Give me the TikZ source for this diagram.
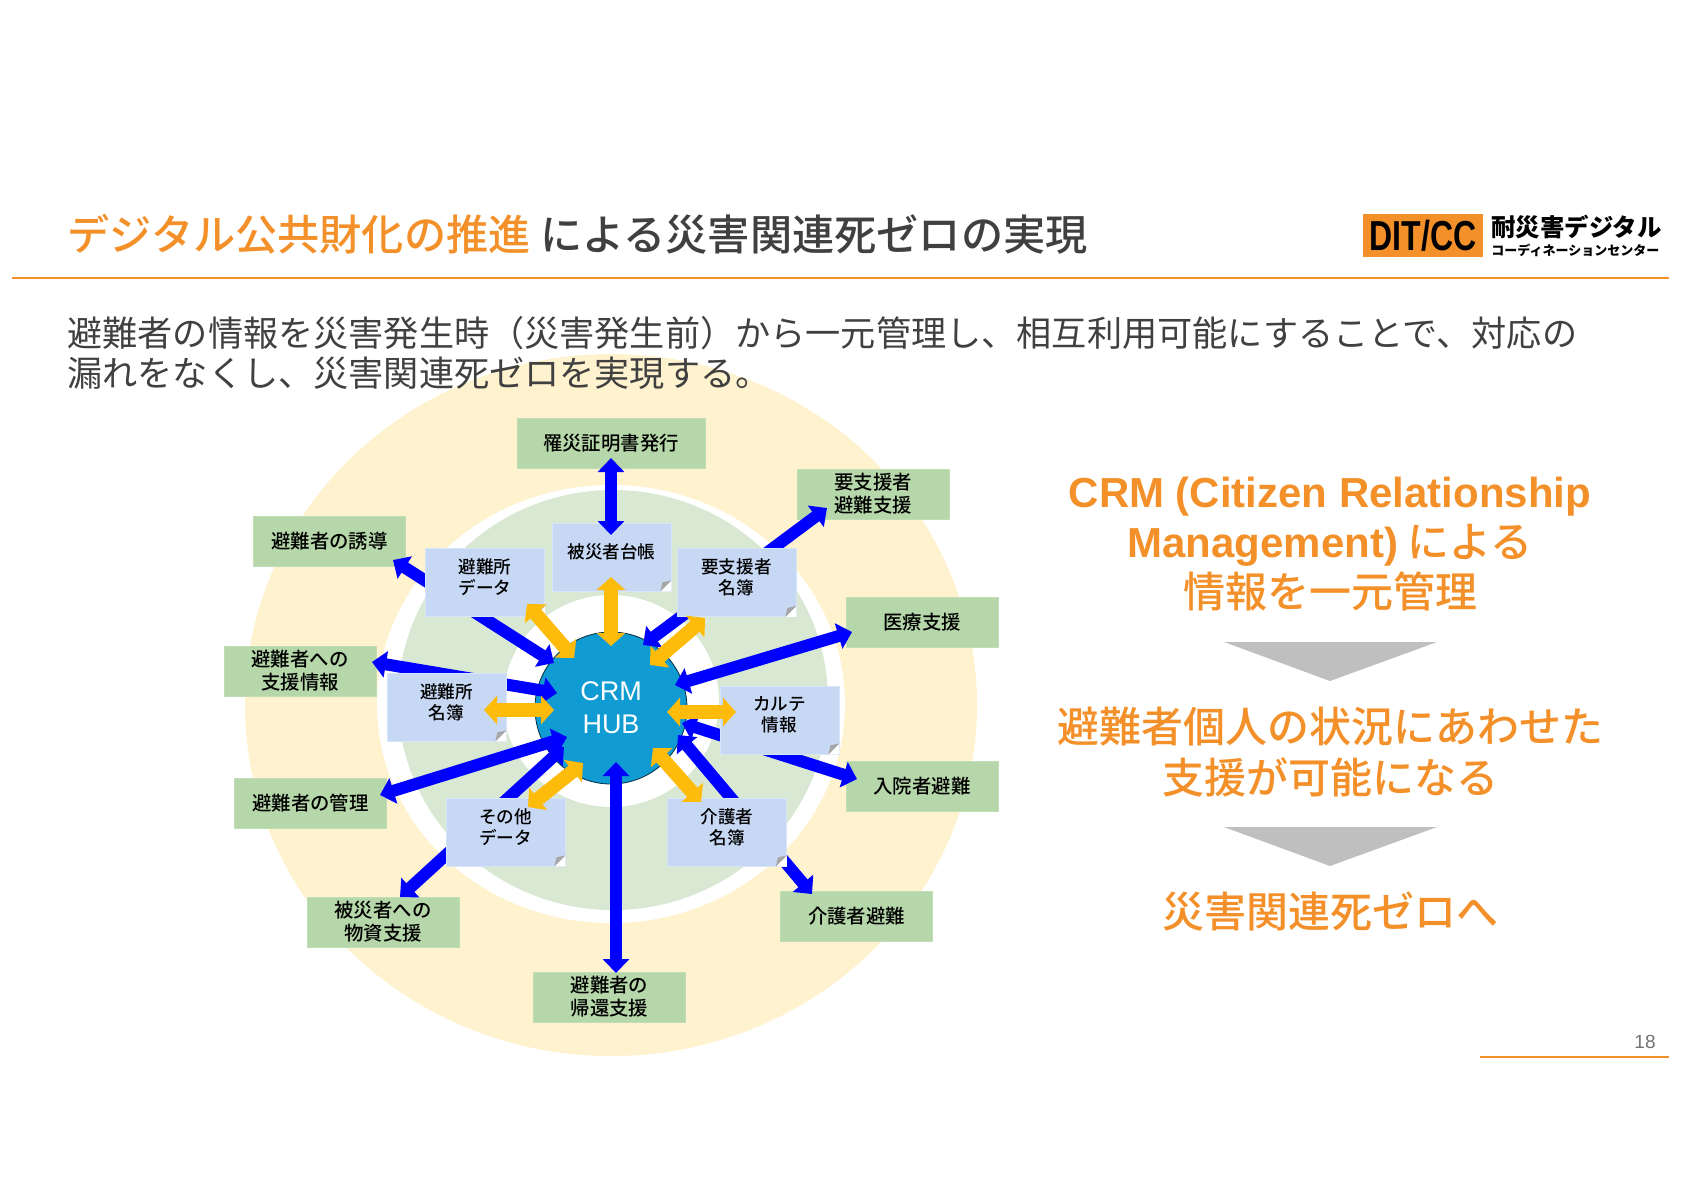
\documentclass[tikz,border=0pt]{standalone}
\usepackage{fontspec}
\setmainfont{Noto Sans CJK JP}
\newfontfamily\titlefont{Noto Sans CJK JP Medium}
\newfontfamily\arialfont{Liberation Sans}
\usetikzlibrary{positioning,arrows.meta,calc}
\definecolor{accent}{HTML}{F39029}
\definecolor{ink}{HTML}{404040}
\definecolor{ringyellow}{HTML}{FFF2CF}
\definecolor{ringgreen}{HTML}{D9E8D3}
\definecolor{outfill}{HTML}{B6D7A9}
\definecolor{notefill}{HTML}{C7D8F5}
\definecolor{hubfill}{HTML}{119BD3}
\definecolor{wayorange}{HTML}{FFBB0A}
\newcommand{\arial}[1]{{\arialfont\bfseries #1}}

\begin{document}
\begin{tikzpicture}[x=0.5pt,y=-0.5pt,
   outbox/.style={fill=outfill,draw=outfill!85!white,inner sep=0pt,minimum width=76pt,minimum height=25pt,
     align=center,font=\fontsize{9.7}{11.4}\selectfont\titlefont},
   notebox/.style={fill=notefill,draw=notefill!70!white,inner sep=0pt,minimum width=59.5pt,minimum height=34pt},
   notetext/.style={inner sep=0pt,align=center,yshift=2.5pt,font=\fontsize{8.8}{10.5}\selectfont\titlefont},
   blueway/.style={<->,>={Triangle[length=7pt,width=13pt]},line width=6pt,blue},
   orangeway/.style={<->,>={Triangle[length=6.5pt,width=14pt]},line width=7pt,wayorange},
   bigline/.style={text=accent,align=center,font=\fontsize{21}{25.2}\selectfont\titlefont}]
  \useasboundingbox (0,0) rectangle (1684,1191);
  \fill[ringyellow] (611,705) ellipse (366 and 351);
  \fill[white] (611,704) ellipse (234 and 219);
  \fill[ringgreen] (613,700) ellipse (215 and 210);
  \fill[white] (611,701) ellipse (108 and 106);

  \node[anchor=west,inner sep=0pt,text=ink,font=\fontsize{21.1}{25}\selectfont\titlefont] (title) at (67,234)
    {\textcolor{accent}{デジタル公共財化の推進} による災害関連死ゼロの実現};
  \draw[accent,line width=1.2pt] (12,278) -- (1669,278);
  \node[anchor=west,inner sep=0pt,text=ink,align=left,font=\fontsize{17.58}{20}\selectfont] (lead) at (67,353)
    {避難者の情報を災害発生時（災害発生前）から一元管理し、相互利用可能にすることで、対応の\\
     漏れをなくし、災害関連死ゼロを実現する。};

  \node[fill=accent,inner sep=0pt,minimum width=60pt,minimum height=21.5pt] (logo) at (1423,235.5)
    {\scalebox{1}[1.31]{\fontsize{16}{16}\selectfont\arial{DIT/CC}}};
  \node[anchor=west,inner sep=0pt,font=\fontsize{12.2}{14}\selectfont\bfseries] (logotop) at (1491,227) {耐災害デジタル};
  \node[anchor=west,inner sep=0pt,font=\fontsize{6.5}{8}\selectfont\bfseries] (logosub) at (1491,250) {コーディネーションセンター};

  \node[circle,fill=hubfill,draw=black!70!hubfill,thin,inner sep=0pt,minimum size=76pt,text=white,align=center,
    font=\fontsize{13.5}{16.6}\selectfont\arialfont] (hub) at (611,708) {CRM\\HUB};

  \node[outbox,minimum width=94pt] (issue) at (611,443.5) {罹災証明書発行};
  \node[outbox] (evac) at (873,494) {要支援者\\避難支援};
  \node[outbox] (medical) at (922,622.5) {医療支援};
  \node[outbox] (hospital) at (922,786) {入院者避難};
  \node[outbox] (carer) at (856.5,916.5) {介護者避難};
  \node[outbox] (return) at (609.5,997) {避難者の\\帰還支援};
  \node[outbox] (goods) at (383,922) {被災者への\\物資支援};
  \node[outbox] (manage) at (310.5,803.5) {避難者の管理};
  \node[outbox] (info) at (300,671) {避難者への\\支援情報};
  \node[outbox] (guide) at (329.5,541) {避難者の誘導};

  \draw[blueway] ([shift={(63.5,19)}]guide.center) -- ([shift={(-57,-45)}]hub.center);
  \draw[blueway] ([shift={(72,-9)}]info.center) -- ([shift={(-54,-15)}]hub.center);
  \draw[blueway] ([shift={(69.5,-8.5)}]manage.center) -- ([shift={(-44,29)}]hub.center);
  \draw[blueway] ([shift={(17,-25)}]goods.center) -- ([shift={(-47,39)}]hub.center);
  \draw[blueway] ([shift={(6.5,-24)}]return.center) -- ([shift={(5,54)}]hub.center);
  \draw[blueway] ([shift={(-44.5,-22.5)}]carer.center) -- ([shift={(67,27)}]hub.center);
  \draw[blueway] ([shift={(-65,-7)}]hospital.center) -- ([shift={(71,15)}]hub.center);
  \draw[blueway] ([shift={(-70,9.5)}]medical.center) -- ([shift={(64,-23)}]hub.center);
  \draw[blueway] ([shift={(-46,14)}]evac.center) -- ([shift={(32,-63)}]hub.center);

  \node[notebox,label={[notetext]center:被災者台帳}] (ledger) at (611.5,557) {};
  \node[notebox,label={[notetext]center:避難所\\データ}] (shelterdata) at (485,582.5) {};
  \node[notebox,label={[notetext]center:要支援者\\名簿}] (needlist) at (736.5,582.5) {};
  \node[notebox,label={[notetext]center:避難所\\名簿}] (shelterlist) at (446.5,707) {};
  \node[notebox,label={[notetext]center:カルテ\\情報}] (chart) at (779.5,720) {};
  \node[notebox,label={[notetext]center:その他\\データ}] (other) at (505.5,832) {};
  \node[notebox,label={[notetext]center:介護者\\名簿}] (carerlist) at (727,832) {};
  \foreach \n in {ledger,shelterdata,needlist,shelterlist,chart,other,carerlist}{
    \fill[white] (\n.south east) -- ++(-11,0) -- ++(11,-11) -- cycle;
    \fill[gray!70] ([shift={(-11,0)}]\n.south east) -- ([shift={(0,-11)}]\n.south east) -- ([shift={(-9,-9)}]\n.south east) -- cycle;
  }

  \draw[blueway] ([shift={(0,14.5)}]issue.center) -- ([shift={(-0.5,-22)}]ledger.center);
  \draw[orangeway] ([shift={(-0.5,20)}]ledger.center) -- ([shift={(0,-62)}]hub.center);
  \draw[orangeway] ([shift={(42,21.5)}]shelterdata.center) -- ([shift={(-37,-50)}]hub.center);
  \draw[orangeway] ([shift={(-31.5,35.5)}]needlist.center) -- ([shift={(39,-43)}]hub.center);
  \draw[orangeway] ([shift={(37.5,3)}]shelterlist.center) -- ([shift={(-57,2)}]hub.center);
  \draw[orangeway] ([shift={(-43.5,-8)}]chart.center) -- ([shift={(56,4)}]hub.center);
  \draw[orangeway] ([shift={(22.5,-25)}]other.center) -- ([shift={(-28,55)}]hub.center);
  \draw[orangeway] ([shift={(-26,-30)}]carerlist.center) -- ([shift={(42,40)}]hub.center);

  \node[bigline] (crm) at (1330,544)
    {\arial{CRM (Citizen Relationship}\\\arial{Management)} による\\情報を一元管理};
  \fill[black!25] (1224,642) -- (1437,642) -- (1330,681) -- cycle;
  \node[bigline] (merit) at (1330,752) {避難者個人の状況にあわせた\\支援が可能になる};
  \fill[black!25] (1224,827) -- (1437,827) -- (1330,866) -- cycle;
  \node[bigline] (zero) at (1330,912) {災害関連死ゼロへ};

  \node[inner sep=0pt,text=black!55,font=\fontsize{9.5}{11}\selectfont\arialfont] (page) at (1645,1042) {18};
  \draw[accent,line width=1.2pt] (1480,1057) -- (1669,1057);
\end{tikzpicture}
\end{document}
